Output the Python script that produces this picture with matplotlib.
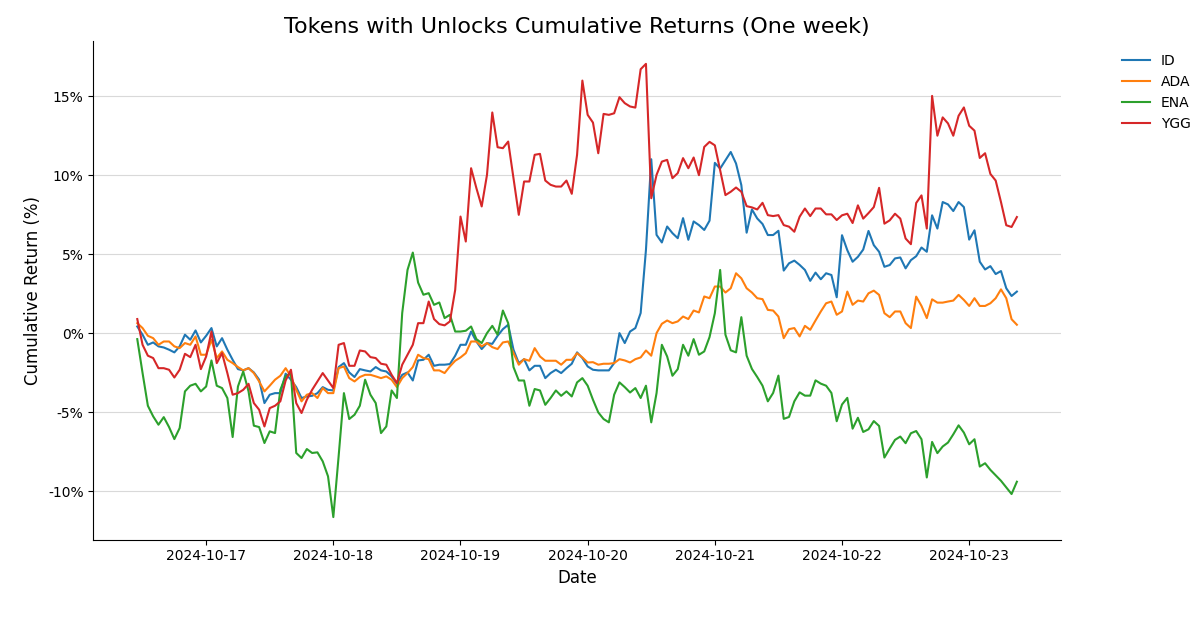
import numpy as np
import pandas as pd
import matplotlib
matplotlib.use("Agg")
import matplotlib.pyplot as plt
import matplotlib.dates as mdates
from matplotlib.ticker import FuncFormatter

# hourly cumulative returns (%)
tokens = ["ID", "ADA", "ENA", "YGG"]
start_time = "2024-10-16 11:00"

id_ret = [
    0.42, -0.1, -0.74, -0.59, -0.84, -0.91, -1.05, -1.22, -0.84, -0.1, -0.42, 0.17, -0.59, -0.17,
    0.32, -0.84, -0.32, -1.05, -1.69, -2.28, -2.36, -2.22, -2.49, -2.95, -4.43, -3.9, -3.8, -3.8,
    -2.57, -2.95, -3.42, -4.11, -4.01, -3.97, -3.8, -3.42, -3.59, -3.63, -2.15, -1.9, -2.49, -2.78,
    -2.28, -2.36, -2.43, -2.15, -2.36, -2.43, -2.74, -3.21, -2.64, -2.49, -3.0, -1.73,
    -1.69, -1.37, -2.07, -2.0, -2.0, -1.96, -1.43, -0.74, -0.74, 0.1, -0.53, -1.01, -0.63, -0.68,
    -0.17, 0.25, 0.53, -1.05, -1.9, -1.65, -2.36, -2.07, -2.07, -2.85, -2.53, -2.32,
    -2.53, -2.22, -1.94, -1.22, -1.58, -2.11, -2.32, -2.36, -2.36, -2.36, -1.9, 0.0, -0.63, 0.1,
    0.32, 1.27, 5.27, 11.01, 6.22, 5.74, 6.75, 6.33, 6.01, 7.28, 5.91, 7.07,
    6.84, 6.53, 7.12, 10.78, 10.42, 10.95, 11.47, 10.74, 9.37, 6.36, 7.83, 7.26, 6.91, 6.21, 6.21,
    6.48, 3.96, 4.42, 4.59, 4.32, 4.0, 3.31, 3.83, 3.41, 3.79, 3.68, 2.27,
    6.2, 5.25, 4.52, 4.83, 5.29, 6.47, 5.57, 5.15, 4.2, 4.31, 4.73, 4.79, 4.1, 4.62, 4.87, 5.42,
    5.15, 7.46, 6.62, 8.3, 8.15, 7.73, 8.3, 7.98, 5.92, 6.51, 4.52, 4.03, 4.24, 3.74, 3.93, 2.84,
    2.35, 2.63,
]

ada_ret = [
    0.63, 0.32, -0.17, -0.32, -0.74, -0.53, -0.53, -0.84, -0.95, -0.63, -0.74, -0.21, -1.37, -1.37,
    -0.42, -1.58, -1.16, -1.69, -1.9, -2.15, -2.36, -2.22, -2.53, -3.06, -3.69, -3.33, -2.95, -2.7,
    -2.22, -2.74, -3.59, -4.32, -3.9, -3.8, -4.11, -3.48, -3.8, -3.8, -2.22, -2.11, -2.85, -3.06,
    -2.78, -2.64, -2.64, -2.74, -2.85, -2.74, -2.95, -3.42, -2.85, -2.53, -2.15, -1.37,
    -1.58, -1.65, -2.36, -2.36, -2.53, -2.11, -1.75, -1.54, -1.27, -0.53, -0.53, -0.84, -0.63, -0.89,
    -1.01, -0.59, -0.53, -1.27, -2.0, -1.65, -1.75, -0.95, -1.48, -1.75, -1.75, -1.75,
    -2.0, -1.69, -1.69, -1.27, -1.54, -1.86, -1.84, -2.0, -1.94, -1.94, -1.9, -1.65, -1.73, -1.86,
    -1.65, -1.54, -1.1, -1.43, 0.0, 0.59, 0.8, 0.63, 0.74, 1.05, 0.89, 1.43,
    1.31, 2.32, 2.21, 2.95, 2.95, 2.57, 2.84, 3.79, 3.47, 2.84, 2.57, 2.21, 2.15, 1.47, 1.43,
    1.05, -0.32, 0.25, 0.32, -0.21, 0.46, 0.21, 0.8, 1.37, 1.89, 2.0, 1.16,
    1.37, 2.63, 1.79, 2.06, 2.0, 2.52, 2.69, 2.42, 1.26, 1.01, 1.37, 1.37, 0.63, 0.32, 2.31, 1.72,
    0.95, 2.14, 1.93, 1.93, 2.0, 2.06, 2.42, 2.1, 1.72, 2.21, 1.72, 1.72, 1.89, 2.21, 2.77, 2.21,
    0.88, 0.53,
]

ena_ret = [
    -0.38, -2.53, -4.6, -5.27, -5.8, -5.32, -5.95, -6.71, -6.01, -3.69, -3.33, -3.21, -3.69, -3.38,
    -1.73, -3.33, -3.48, -4.11, -6.58, -3.38, -2.43, -3.69, -5.86, -5.95, -6.96, -6.22, -6.33, -3.59,
    -2.74, -2.53, -7.59, -7.91, -7.34, -7.59, -7.55, -8.12, -9.07, -11.65, -7.8, -3.8, -5.44, -5.17,
    -4.6, -2.95, -3.9, -4.43, -6.33, -5.91, -3.63, -4.11, 1.27, 4.0, 5.1, 3.2,
    2.43, 2.53, 1.79, 1.94, 0.95, 1.16, 0.1, 0.1, 0.15, 0.42, -0.38, -0.63, 0.0, 0.46,
    -0.1, 1.43, 0.63, -2.15, -3.0, -3.0, -4.6, -3.54, -3.63, -4.54, -4.11, -3.63,
    -3.97, -3.69, -4.01, -3.12, -2.85, -3.33, -4.22, -5.02, -5.44, -5.65, -3.9, -3.12, -3.42, -3.76,
    -3.48, -4.11, -3.33, -5.65, -3.8, -0.74, -1.48, -2.7, -2.28, -0.74, -1.43, -0.38,
    -1.37, -1.16, -0.25, 1.26, 4.0, -0.1, -1.09, -1.22, 1.01, -1.43, -2.27, -2.78, -3.33, -4.32, -3.79,
    -2.69, -5.43, -5.31, -4.32, -3.75, -3.96, -3.96, -2.99, -3.2, -3.33, -3.79, -5.58,
    -4.52, -4.1, -6.05, -5.36, -6.26, -6.09, -5.57, -5.88, -7.88, -7.31, -6.76, -6.55, -6.97, -6.34,
    -6.2, -6.72, -9.14, -6.89, -7.6, -7.18, -6.93, -6.41, -5.84, -6.3, -7.04, -6.72, -8.45, -8.24,
    -8.66, -9.0, -9.35, -9.77, -10.19, -9.41,
]

ygg_ret = [
    0.89, -0.74, -1.43, -1.58, -2.22, -2.22, -2.32, -2.81, -2.32, -1.31, -1.52, -0.74, -2.28, -1.48,
    0.1, -1.9, -1.27, -2.53, -3.9, -3.8, -3.59, -3.21, -4.43, -4.85, -5.91, -4.75, -4.6, -4.32,
    -3.0, -2.32, -4.43, -5.06, -4.22, -3.59, -3.06, -2.53, -3.0, -3.48, -0.74, -0.63, -2.07, -2.07,
    -1.1, -1.16, -1.52, -1.58, -1.94, -2.0, -2.64, -3.16, -2.0, -1.37, -0.74, 0.63,
    0.63, 2.0, 0.89, 0.57, 0.49, 0.74, 2.74, 7.38, 5.8, 10.44, 9.18, 8.02, 10.02, 13.97,
    11.77, 11.71, 12.13, 9.81, 7.49, 9.6, 9.6, 11.29, 11.35, 9.66, 9.39, 9.28,
    9.28, 9.66, 8.82, 11.29, 15.99, 13.82, 13.33, 11.39, 13.88, 13.82, 13.92, 14.94, 14.56, 14.35,
    14.28, 16.71, 17.05, 8.54, 10.02, 10.86, 10.97, 9.81, 10.13, 11.08, 10.44, 11.12,
    10.0, 11.79, 12.11, 11.89, 10.32, 8.74, 8.95, 9.22, 8.95, 8.04, 7.96, 7.83, 8.25, 7.47, 7.41,
    7.47, 6.84, 6.74, 6.42, 7.37, 7.89, 7.41, 7.89, 7.89, 7.52, 7.52, 7.16,
    7.46, 7.56, 6.97, 8.09, 7.25, 7.6, 7.98, 9.2, 6.93, 7.14, 7.56, 7.25, 5.99, 5.63, 8.24, 8.72,
    6.62, 15.02, 12.5, 13.66, 13.28, 12.5, 13.76, 14.29, 13.13, 12.82, 11.09, 11.39, 10.08, 9.66,
    8.3, 6.83, 6.72, 7.35,
]

dates = pd.date_range(start_time, periods=len(id_ret), freq="h")
df = pd.DataFrame({"ID": id_ret, "ADA": ada_ret, "ENA": ena_ret, "YGG": ygg_ret}, index=dates)

fig, ax = plt.subplots(figsize=(11.96, 6.24), dpi=100)
fig.subplots_adjust(left=0.078, right=0.887, top=0.934, bottom=0.135)

for t in tokens:
    ax.plot(df.index, df[t], label=t, linewidth=1.5)

ax.set_title("Tokens with Unlocks Cumulative Returns (One week)", fontsize=16)
ax.set_xlabel("Date", fontsize=12)
ax.set_ylabel("Cumulative Return (%)", fontsize=12)

ax.xaxis.set_major_locator(mdates.DayLocator())
ax.xaxis.set_major_formatter(mdates.DateFormatter("%Y-%m-%d"))
ax.set_yticks([-10, -5, 0, 5, 10, 15])
ax.yaxis.set_major_formatter(FuncFormatter(lambda v, p: f"{int(v)}%"))

ax.grid(axis="y", color="#d9d9d9", linewidth=0.8)
ax.set_axisbelow(True)
ax.spines["top"].set_visible(False)
ax.spines["right"].set_visible(False)

ax.legend(loc="upper left", bbox_to_anchor=(1.05, 1.0), frameon=False, fontsize=10)

fig.savefig("out.png")
